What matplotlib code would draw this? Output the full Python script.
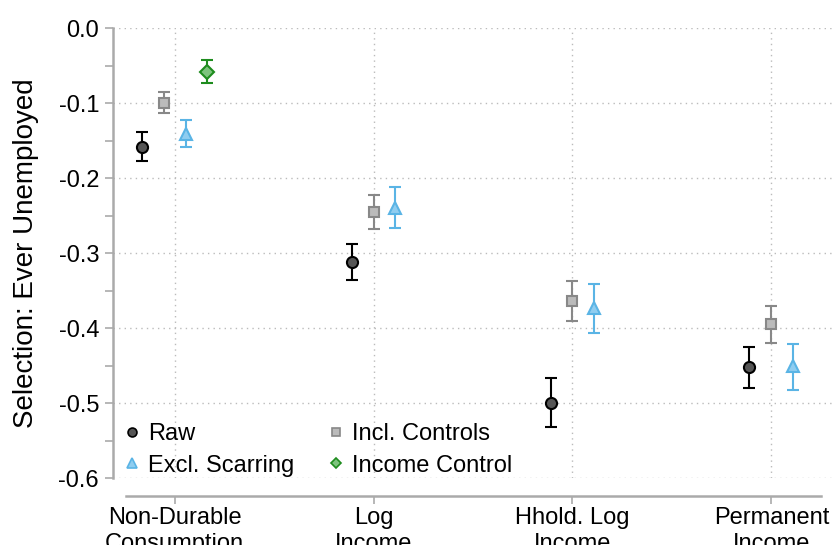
import numpy as np
import matplotlib
matplotlib.use('Agg')
import matplotlib.pyplot as plt

plt.rcParams['font.family'] = ['Liberation Sans', 'DejaVu Sans']
plt.rcParams['axes.unicode_minus'] = False

categories = ['Non-Durable\nConsumption', 'Log\nIncome', 'Hhold. Log\nIncome', 'Permanent\nIncome']
ytick_vals = [-0.6, -0.5, -0.4, -0.3, -0.2, -0.1, 0.0]
ytick_labels = ['-0.6', '-0.5', '-0.4', '-0.3', '-0.2', '-0.1', '0.0']

# point estimates and confidence bounds per series (one value per category, None = not shown)
raw_est = [-0.159, -0.3125, -0.500, -0.452]
raw_lo = [-0.177, -0.336, -0.532, -0.480]
raw_hi = [-0.139, -0.288, -0.467, -0.425]

ctrl_est = [-0.100, -0.245, -0.364, -0.394]
ctrl_lo = [-0.113, -0.268, -0.390, -0.420]
ctrl_hi = [-0.085, -0.223, -0.337, -0.370]

scar_est = [-0.141, -0.240, -0.373, -0.450]
scar_lo = [-0.159, -0.267, -0.407, -0.482]
scar_hi = [-0.123, -0.212, -0.341, -0.421]

inc_est = [-0.058, None, None, None]
inc_lo = [-0.073, None, None, None]
inc_hi = [-0.042, None, None, None]

series = [
    ('Raw', raw_est, raw_lo, raw_hi, 'o', '#555555', 'black', 'black', 8),
    ('Incl. Controls', ctrl_est, ctrl_lo, ctrl_hi, 's', '#bbbbbb', '#888888', '#888888', 7.5),
    ('Excl. Scarring', scar_est, scar_lo, scar_hi, '^', '#8fcdf0', '#5ab4e5', '#5ab4e5', 9),
    ('Income Control', inc_est, inc_lo, inc_hi, 'D', '#7dc47d', '#1e8c1e', '#1e8c1e', 7),
]

fig = plt.figure(figsize=(8.35, 5.45), dpi=100)
ax = fig.add_axes([0.1353, 0.1229, 0.8623, 0.8257])

step = 0.11
xc = np.arange(1, len(categories) + 1)
handles = {}
for j in range(len(categories)):
    present = [s for s in series if s[1][j] is not None]
    n = len(present)
    for k, (name, est, lo, hi, mk, fc, ec, errc, ms) in enumerate(present):
        x = xc[j] + (k - (n - 1) / 2) * step
        ax.errorbar([x], [est[j]],
                    yerr=[[est[j] - lo[j]], [hi[j] - est[j]]],
                    fmt=mk, ms=ms, mfc=fc, mec=ec, mew=1.5,
                    ecolor=errc, elinewidth=1.5, capsize=4.5, capthick=1.5, zorder=3)

for name, est, lo, hi, mk, fc, ec, errc, ms in series:
    h, = ax.plot([], [], mk, ms=ms * 0.8, mfc=fc, mec=ec, mew=1.2, label=name)
    handles[name] = h

ax.set_xlim(0.69, 4.31)
ax.set_ylim(-0.6, 0.0)
ax.set_yticks(ytick_vals)
ax.set_yticklabels(ytick_labels)
ax.set_yticks(np.arange(-0.55, 0.0, 0.1), minor=True)
ax.set_xticks(xc)
ax.set_xticklabels(categories, linespacing=0.9)

ax.grid(True, which='major', linestyle=(0, (1, 3)), color='#bbbbbb', linewidth=1.0)
ax.set_axisbelow(True)

for s in ['top', 'right']:
    ax.spines[s].set_visible(False)
ax.spines['left'].set_color('#aaaaaa')
ax.spines['left'].set_linewidth(1.8)
ax.spines['left'].set_bounds(-0.6, 0.0)
ax.spines['bottom'].set_color('#aaaaaa')
ax.spines['bottom'].set_linewidth(1.8)
ax.spines['bottom'].set_position(('outward', 13))
ax.spines['bottom'].set_bounds(0.755, 4.25)

ax.tick_params(axis='y', which='major', length=6, width=1.2, color='#aaaaaa', labelsize=17, pad=4)
ax.tick_params(axis='y', which='minor', length=6, width=1.2, color='#aaaaaa')
ax.tick_params(axis='x', length=6, width=1.2, color='#aaaaaa', labelsize=17, pad=2)

ax.set_ylabel('Selection: Ever Unemployed', fontsize=20, labelpad=14)

# legend fills column-wise: order gives rows (Raw, Incl.) and (Excl., Income)
order = ['Raw', 'Excl. Scarring', 'Incl. Controls', 'Income Control']
ax.legend(handles=[handles[k] for k in order], loc='lower left', ncol=2, frameon=False,
          fontsize=17, handlelength=0.8, handletextpad=0.3, columnspacing=1.35,
          borderaxespad=0.0, labelspacing=0.4, bbox_to_anchor=(0.0, -0.018))

fig.savefig('out.png', dpi=100)
